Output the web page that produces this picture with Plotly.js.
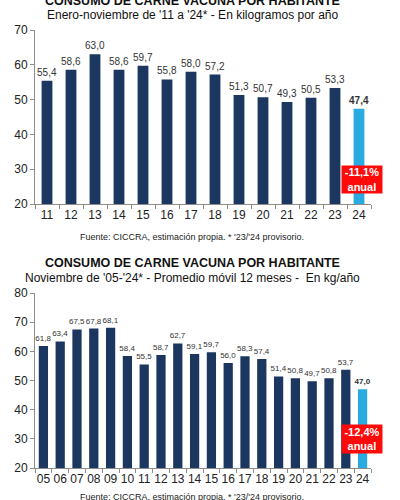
<!DOCTYPE html>
<html><head><meta charset="utf-8">
<script src="https://cdn.plot.ly/plotly-3.0.1.min.js"></script>
<style>html,body{margin:0;padding:0;background:#fff}#c{width:400px;height:500px}</style>
</head><body><div id="c"></div>
<script>
const yearsTop = ['11','12','13','14','15','16','17','18','19','20','21','22','23','24'];
const valuesTop = [55.4,58.6,63.0,58.6,59.7,55.8,58.0,57.2,51.3,50.7,49.3,50.5,53.3,47.4];
const yearsBottom = ['05','06','07','08','09','10','11','12','13','14','15','16','17','18','19','20','21','22','23','24'];
const valuesBottom = [61.8,63.4,67.5,67.8,68.1,58.4,55.5,58.7,62.7,59.1,59.7,56.0,58.3,57.4,51.4,50.8,49.7,50.8,53.7,47.0];
const titleText = 'CONSUMO DE CARNE VACUNA POR HABITANTE';
const subtitleTop = "Enero-noviembre de '11 a '24* - En kilogramos por año";
const subtitleBottom = "Noviembre de '05-'24* - Promedio móvil 12 meses -  En kg/año";
const sourceText = "Fuente: CICCRA, estimación propia. * '23/'24 provisorio.";
const changeTop = '-11,1%';
const changeBottom = '-12,4%';

const NAVY = '#1b365f', LIGHT = '#29abe2', RED = '#ff0a0a';
const fmt = v => v.toFixed(1).replace('.', ',');
function labels(vals){ return vals.map((v,i)=> i===vals.length-1 ? '<b>'+fmt(v)+'</b>' : fmt(v)); }
function colors(vals){ return vals.map((v,i)=> i===vals.length-1 ? LIGHT : NAVY); }

const font = 'Liberation Sans, Arial, sans-serif';
const traces = [
  {type:'bar', x:yearsTop, y:valuesTop, xaxis:'x', yaxis:'y', marker:{color:colors(valuesTop)},
   width:0.45, text:labels(valuesTop), textposition:'outside', cliponaxis:false, constraintext:'none',
   textfont:{size:10, color:'#333', family:font}, hoverinfo:'none'},
  {type:'bar', x:yearsBottom, y:valuesBottom, xaxis:'x2', yaxis:'y2', marker:{color:colors(valuesBottom)},
   width:0.55, text:labels(valuesBottom), textposition:'outside', cliponaxis:false, constraintext:'none',
   textfont:{size:8, color:'#333', family:font}, hoverinfo:'none'}
];
const axisCommon = {showline:true, linecolor:'#8c8c8c', linewidth:1, ticks:'outside', tickcolor:'#8c8c8c', ticklen:4, showgrid:false, zeroline:false, fixedrange:true};
const layout = {
  width:400, height:500, margin:{l:0,r:0,t:0,b:0}, showlegend:false,
  paper_bgcolor:'#fff', plot_bgcolor:'#fff', font:{family:font, color:'#222'},
  xaxis: Object.assign({}, axisCommon, {type:'category', tickangle:0, domain:[0.0875,0.9275], anchor:'y', tickson:'boundaries', tickfont:{size:12, color:'#222'}}),
  yaxis: Object.assign({}, axisCommon, {domain:[0.592,0.94], anchor:'x', range:[20,70], dtick:10, tickfont:{size:12, color:'#222'}}),
  xaxis2: Object.assign({}, axisCommon, {type:'category', tickangle:0, domain:[0.0875,0.9275], anchor:'y2', tickson:'boundaries', tickfont:{size:12, color:'#222'}}),
  yaxis2: Object.assign({}, axisCommon, {domain:[0.064,0.414], anchor:'x2', range:[20,80], dtick:10, tickfont:{size:12, color:'#222'}}),
  annotations:[
    {text:'<b>'+titleText+'</b>', xref:'paper', yref:'paper', x:0.482, y:1-1/500, showarrow:false, font:{size:12.5, color:'#111'}, xanchor:'center', yanchor:'middle'},
    {text:subtitleTop, xref:'paper', yref:'paper', x:0.482, y:1-15/500, showarrow:false, font:{size:12, color:'#111'}, xanchor:'center', yanchor:'middle'},
    {text:sourceText, xref:'paper', yref:'paper', x:0.48, y:1-237/500, showarrow:false, font:{size:9, color:'#222'}, xanchor:'center', yanchor:'middle'},
    {text:'<b>'+changeTop+'<br>anual</b>', xref:'paper', yref:'paper', x:362/400, y:1-179/500, showarrow:false, font:{size:11, color:'#fff'}, bgcolor:RED, width:40, height:27, borderpad:0, xanchor:'center', yanchor:'middle', align:'center'},
    {text:'<b>'+titleText+'</b>', xref:'paper', yref:'paper', x:0.482, y:1-263/500, showarrow:false, font:{size:12.5, color:'#111'}, xanchor:'center', yanchor:'middle'},
    {text:subtitleBottom, xref:'paper', yref:'paper', x:0.482, y:1-278/500, showarrow:false, font:{size:12, color:'#111'}, xanchor:'center', yanchor:'middle'},
    {text:sourceText, xref:'paper', yref:'paper', x:0.48, y:1-497/500, showarrow:false, font:{size:9, color:'#222'}, xanchor:'center', yanchor:'middle'},
    {text:'<b>'+changeBottom+'<br>anual</b>', xref:'paper', yref:'paper', x:362/400, y:1-439/500, showarrow:false, font:{size:11, color:'#fff'}, bgcolor:RED, width:40, height:28, borderpad:0, xanchor:'center', yanchor:'middle', align:'center'}
  ]
};
Plotly.newPlot('c', traces, layout, {staticPlot:true, displayModeBar:false});
</script></body></html>
